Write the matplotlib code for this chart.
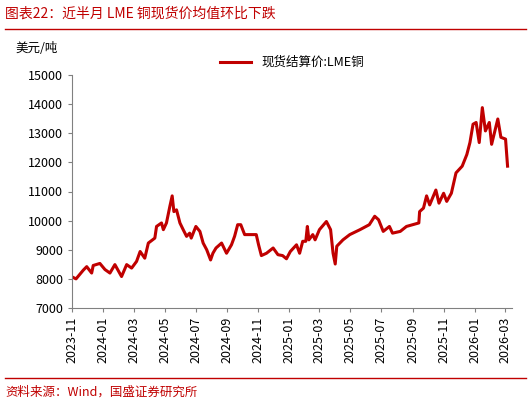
import matplotlib

matplotlib.use("Agg")

import matplotlib.pyplot as plt
import pandas as pd

plt.rcParams["font.family"] = ["Noto Sans CJK SC", "DejaVu Sans"]

# months elapsed since 2023-11-01
months = [0, 0.26, 0.73, 0.95, 1.27, 1.37, 1.8, 2.13, 2.45, 2.77, 3.2, 3.53, 3.85, 4.17, 4.4, 4.7,
          4.93, 5.35, 5.46, 5.78, 5.9, 6.1, 6.32, 6.47, 6.58, 6.75, 6.97, 7.18, 7.4, 7.6, 7.7, 8.0,
          8.26, 8.47, 8.7, 8.95, 9.1, 9.3, 9.66, 9.98, 10.3, 10.5, 10.7, 10.9, 11.15, 11.5, 11.9,
          12.05, 12.23, 12.56, 12.99, 13.3, 13.6, 13.85, 14.1, 14.5, 14.7, 14.9, 15.1, 15.2, 15.3,
          15.55, 15.7, 15.98, 16.43, 16.7, 16.86, 17.0, 17.1, 17.5, 17.94, 18.6, 19.2, 19.55, 19.8,
          20.1, 20.5, 20.7, 21.2, 21.6, 22.0, 22.4, 22.45, 22.7, 22.9, 23.1, 23.5, 23.7, 24.0, 24.2,
          24.5, 24.8, 25.2, 25.5, 25.7, 25.9, 26.1, 26.3, 26.5, 26.7, 26.95, 27.1, 27.5, 27.7,
          28.0, 28.13]
prices = [8070, 8000, 8300, 8420, 8200, 8460, 8530, 8320, 8200, 8490, 8080, 8490, 8370, 8600, 8940,
          8710, 9230, 9400, 9800, 9920, 9690, 9920, 10490, 10850, 10310, 10370, 9920, 9690, 9460,
          9570, 9400, 9800, 9630, 9230, 9000, 8650, 8880, 9060, 9230, 8880, 9170, 9460, 9860, 9860,
          9520, 9520, 9520, 9170, 8800, 8880, 9060, 8830, 8800, 8690, 8940, 9170, 8880, 9290, 9290,
          9800, 9340, 9520, 9340, 9690, 9970, 9690, 8880, 8510, 9120, 9340, 9520, 9690, 9860, 10150,
          10030, 9630, 9800, 9570, 9630, 9800, 9860, 9920, 10310, 10430, 10850, 10540, 11050, 10600,
          10940, 10660, 10940, 11640, 11870, 12270, 12680, 13310, 13370, 12680, 13880, 13080, 13370,
          12620, 13490, 12860, 12800, 11870]
tick_labels = ["2023-11", "2024-01", "2024-03", "2024-05", "2024-07", "2024-09", "2024-11",
               "2025-01", "2025-03", "2025-05", "2025-07", "2025-09", "2025-11", "2026-01", "2026-03"]

red = "#c00000"
dates = pd.Timestamp("2023-11-01") + pd.to_timedelta([m * 30.44 for m in months], unit="D")

fig = plt.figure(figsize=(5.31, 4.05), dpi=100)
ax = fig.add_axes([72 / 531, 1 - 308 / 405, 440 / 531, 233 / 405])
ax.plot(dates, prices, color=red, linewidth=2.2, label="现货结算价:LME铜")

ax.set_ylim(7000, 15000)
ax.set_yticks(range(7000, 15001, 1000))
ax.set_xticks(pd.to_datetime(tick_labels))
ax.set_xticklabels(tick_labels, rotation=90)
ax.set_xlim(pd.Timestamp("2023-11-01"), pd.Timestamp("2026-03-15"))
for side in ["top", "right"]:
    ax.spines[side].set_visible(False)
for side in ["left", "bottom"]:
    ax.spines[side].set_color("#808080")
ax.tick_params(labelsize=9, color="#808080", length=3)
ax.legend(loc="upper center", bbox_to_anchor=(0.5, 1.13), frameon=False, fontsize=9,
          handlelength=2.5)

fig.text(0.03, 1 - 48 / 405, "美元/吨", fontsize=9, va="center")
fig.text(0.01, 1 - 14 / 405, "图表22：近半月 LME 铜现货价均值环比下跌", fontsize=10,
         color=red, style="italic", va="center")
fig.add_artist(plt.Line2D([0.01, 0.99], [1 - 29 / 405, 1 - 29 / 405], color=red, linewidth=1))
fig.add_artist(plt.Line2D([0.01, 0.99], [1 - 378 / 405, 1 - 378 / 405], color=red, linewidth=1))
fig.text(0.01, 1 - 392 / 405, "资料来源：Wind，国盛证券研究所", fontsize=9, color=red,
         style="italic", va="center")

fig.savefig("out.png")
